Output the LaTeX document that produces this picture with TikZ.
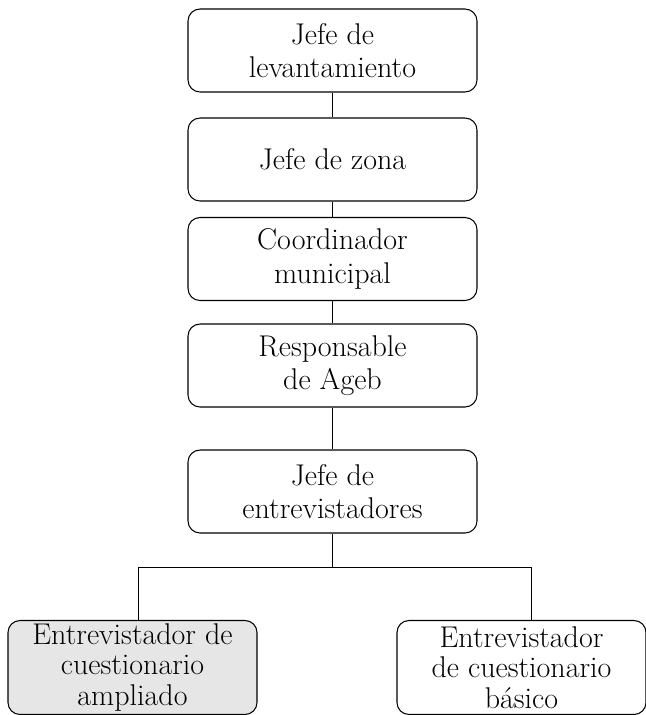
\documentclass[tikz,border=0pt]{standalone}
\definecolor{boxgray}{HTML}{E6E6E6}
\begin{document}
\begin{tikzpicture}[x=0.75pt,y=-0.75pt,
  box/.style={draw, line width=0.8pt, rounded corners=9pt, align=center, inner sep=0pt, font=\fontsize{22.5}{25}\selectfont},
  topbox/.style={box, minimum width=216.75pt, minimum height=62.25pt},
  botbox/.style={box, minimum width=186.75pt, minimum height=70.5pt, font=\fontsize{22.5}{23}\selectfont},
  link/.style={line width=0.65pt}]
\useasboundingbox (0,0) rectangle (646,715);
\node[topbox] (a) at (332.5,50.5) {Jefe de\\levantamiento};
\node[topbox] (b) at (332.5,159.5) {Jefe de zona};
\node[topbox] (c) at (332.5,259) {Coordinador\\municipal};
\node[topbox] (d) at (332.5,365.5) {Responsable\\de Ageb};
\node[topbox] (e) at (332.5,491.5) {Jefe de\\entrevistadores};
\node[botbox, fill=boxgray] (f) at (132.5,667.5) {Entrevistador de\\cuestionario\\ampliado};
\node[botbox] (g) at (521.5,667.5) {Entrevistador\\de cuestionario\\básico};
\coordinate (j) at (332.5,567);
\coordinate (l) at (138,567);
\coordinate (r) at (531,567);
\draw[link] (a) -- (b);
\draw[link] (b) -- (c);
\draw[link] (c) -- (d);
\draw[link] (d) -- (e);
\draw[link] (e) -- (j);
\draw[link] (l) -- (r);
\draw[link] (l) -- (l |- f.north);
\draw[link] (r) -- (r |- g.north);
\end{tikzpicture}
\end{document}
